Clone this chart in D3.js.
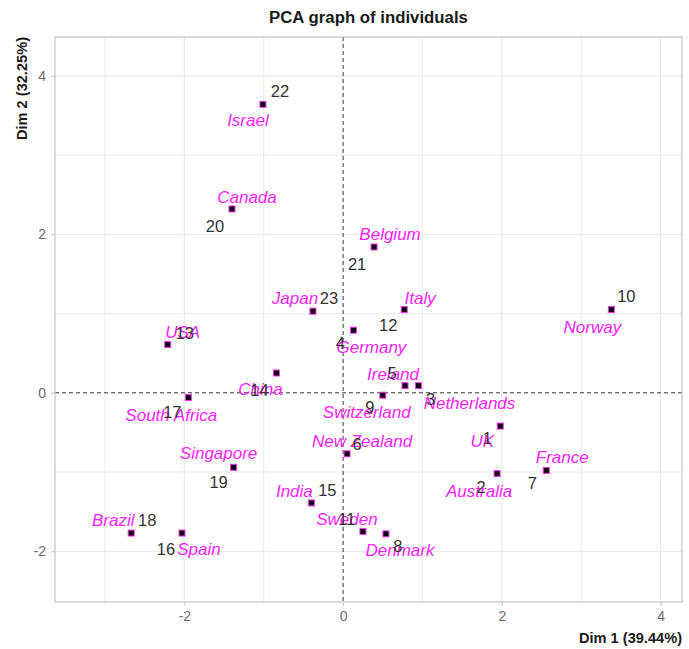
<!DOCTYPE html>
<html>
<head>
<meta charset="utf-8">
<script src="https://cdn.jsdelivr.net/npm/d3@7"></script>
<style>
  html, body { margin: 0; padding: 0; background: #fff; }
  svg { display: block; font-family: "Liberation Sans", Arial, sans-serif; }
</style>
</head>
<body>
<div id="chart"></div>
<script>
// PCA individuals (factor map)
const countries = ["UK", "Australia", "Netherlands", "Germany", "Ireland", "New Zealand",
  "France", "Denmark", "Switzerland", "Norway", "Sweden", "Italy", "USA", "China", "India",
  "Spain", "South Africa", "Brazil", "Singapore", "Canada", "Belgium", "Israel", "Japan"];
const ids = countries.map((_, i) => String(i + 1));
const dim1 = [1.98, 1.94, 0.95, 0.13, 0.78, 0.05, 2.56, 0.54, 0.50, 3.38, 0.25, 0.77,
  -2.21, -0.84, -0.40, -2.03, -1.95, -2.67, -1.38, -1.40, 0.39, -1.01, -0.38];
const dim2 = [-0.42, -1.02, 0.09, 0.79, 0.09, -0.77, -0.98, -1.78, -0.03, 1.05, -1.75, 1.05,
  0.61, 0.25, -1.39, -1.77, -0.06, -1.77, -0.94, 2.32, 1.84, 3.64, 1.03];
const xTicks = [-2, 0, 2, 4];
const yTicks = [-2, 0, 2, 4];
const xTitle = "Dim 1 (39.44%)";
const yTitle = "Dim 2 (32.25%)";
const title = "PCA graph of individuals";

// repelled label offsets (px from the point): [dx, dy] for name, then for number
const nameOffsets = [[-18, 15], [-18, 17], [51, 17], [18, 17], [-12, -12], [15, -13],
  [16, -13], [14, 16], [-16, 17], [-19, 17], [-16, -12], [16, -12], [15, -12], [-16, 16],
  [-17, -12], [17, 16], [-17, 17], [-18, -13], [-15, -14], [15, -12], [16, -13], [-15, 16], [-18, -13]];
const numOffsets = [[-13, 12], [-16, 14], [12, 14], [-13, 13], [-13, -12], [10, -10],
  [-14, 13], [12, 12], [-13, 12], [15, -13], [-16, -12], [-16, 16], [17, -11], [-17, 17],
  [16, -13], [-16, 16], [-16, 15], [16, -13], [-15, 15], [-17, 17], [-17, 17], [17, -13], [16, -13]];

const width = 689, height = 649;
const panel = { left: 55, right: 682, top: 37, bottom: 602 };

const svg = d3.select("#chart").append("svg")
  .attr("width", width)
  .attr("height", height);

const x = d3.scaleLinear().domain([-3.63, 4.27]).range([panel.left, panel.right]);
const y = d3.scaleLinear().domain([-2.64, 4.49]).range([panel.bottom, panel.top]);

const grid = svg.append("g").attr("stroke", "#ebebeb").attr("fill", "none");
const minor = [-3, -1, 1, 3];
grid.selectAll("line.vx")
  .data(minor.concat(xTicks).filter((v) => v !== 0 && x(v) > panel.left && x(v) < panel.right))
  .join("line").attr("class", "vx")
  .attr("x1", (d) => x(d)).attr("x2", (d) => x(d))
  .attr("y1", panel.top).attr("y2", panel.bottom)
  .attr("stroke-width", (d) => (minor.includes(d) ? 1 : 1.3));
grid.selectAll("line.hy")
  .data(minor.concat(yTicks).filter((v) => v !== 0 && y(v) > panel.top && y(v) < panel.bottom))
  .join("line").attr("class", "hy")
  .attr("y1", (d) => y(d)).attr("y2", (d) => y(d))
  .attr("x1", panel.left).attr("x2", panel.right)
  .attr("stroke-width", (d) => (minor.includes(d) ? 1 : 1.3));

// zero lines
svg.append("line")
  .attr("x1", x(0)).attr("x2", x(0)).attr("y1", panel.top).attr("y2", panel.bottom)
  .attr("stroke", "#333").attr("stroke-dasharray", "4,3");
svg.append("line")
  .attr("y1", y(0)).attr("y2", y(0)).attr("x1", panel.left).attr("x2", panel.right)
  .attr("stroke", "#333").attr("stroke-dasharray", "4,3");

svg.append("rect")
  .attr("x", panel.left).attr("y", panel.top)
  .attr("width", panel.right - panel.left).attr("height", panel.bottom - panel.top)
  .attr("fill", "none").attr("stroke", "#c4c4c4").attr("stroke-width", 1.2);

// axes
const xAxis = svg.append("g")
  .attr("transform", `translate(0,${panel.bottom})`)
  .call(d3.axisBottom(x).tickValues(xTicks).tickSize(4).tickPadding(5));
const yAxis = svg.append("g")
  .attr("transform", `translate(${panel.left},0)`)
  .call(d3.axisLeft(y).tickValues(yTicks).tickSize(4).tickPadding(5));
[xAxis, yAxis].forEach((ax) => {
  ax.select(".domain").remove();
  ax.selectAll(".tick line").attr("stroke", "#c4c4c4");
  ax.selectAll(".tick text")
    .attr("fill", "#6b6b6b")
    .attr("font-size", "14px")
    .attr("font-family", "Liberation Sans, Arial, sans-serif")
    .text((d) => (d < 0 ? "-" + Math.abs(d) : d));
});

svg.append("text")
  .attr("x", (panel.left + panel.right) / 2).attr("y", 23)
  .attr("text-anchor", "middle")
  .attr("font-size", "16.8px").attr("font-weight", "bold").attr("fill", "#1a1a1a")
  .text(title);

svg.append("text")
  .attr("x", panel.right).attr("y", 643)
  .attr("text-anchor", "end")
  .attr("font-size", "14.6px").attr("font-weight", "bold").attr("fill", "#1a1a1a")
  .text(xTitle);

svg.append("text")
  .attr("transform", `translate(27,${panel.top}) rotate(-90)`)
  .attr("text-anchor", "end")
  .attr("font-size", "14.6px").attr("font-weight", "bold").attr("fill", "#1a1a1a")
  .text(yTitle);

const rows = countries.map((c, i) => ({ name: c, id: ids[i], d1: dim1[i], d2: dim2[i], i }));

// labels: names (magenta italic) and row numbers (dark grey)
svg.append("g").selectAll("text")
  .data(rows)
  .join("text")
  .attr("x", (d) => x(d.d1) + nameOffsets[d.i][0])
  .attr("y", (d) => y(d.d2) + nameOffsets[d.i][1])
  .attr("dy", "0.35em")
  .attr("text-anchor", "middle")
  .attr("font-size", "17px").attr("font-style", "italic")
  .attr("fill", "#ff22ff")
  .text((d) => d.name);

svg.append("g").selectAll("text")
  .data(rows)
  .join("text")
  .attr("x", (d) => x(d.d1) + numOffsets[d.i][0])
  .attr("y", (d) => y(d.d2) + numOffsets[d.i][1])
  .attr("dy", "0.35em")
  .attr("text-anchor", "middle")
  .attr("font-size", "16.5px")
  .attr("fill", "#333")
  .text((d) => d.id);

svg.append("g").selectAll("rect")
  .data(rows)
  .join("rect")
  .attr("x", (d) => x(d.d1) - 3)
  .attr("y", (d) => y(d.d2) - 3)
  .attr("width", 6).attr("height", 6)
  .attr("fill", "#000")
  .attr("stroke", "#ff33ff").attr("stroke-width", 1);
</script>
</body>
</html>
